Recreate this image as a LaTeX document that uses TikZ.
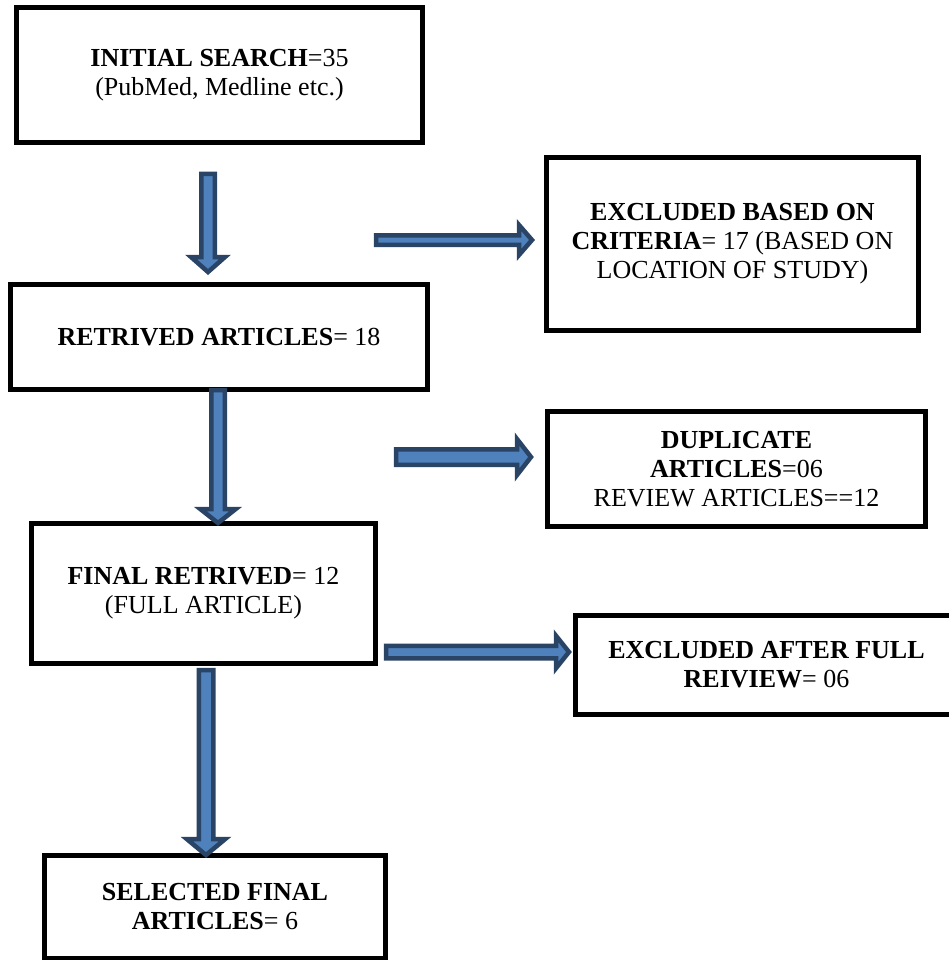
\documentclass[tikz,border=0pt]{standalone}
\usepackage{fontspec}
\setmainfont{Liberation Serif}
\usetikzlibrary{calc}
\definecolor{arrowfill}{HTML}{4F81BD}
\definecolor{arrowline}{HTML}{2A4466}
\tikzset{
  box/.style={draw=black, line width=5pt, rectangle, inner sep=0pt, align=center,
    font=\fontsize{26}{29}\selectfont},
  barrow/.style={fill=arrowfill, draw=arrowline, line width=4.5pt, line join=miter},
}
% vertical block arrow: from, to, shaft half width, head half width, head length
\newcommand\blockdown[5]{%
  \draw[barrow] let \p1=(#1), \p2=(#2) in
    (\x1-#3pt,\y1) -- (\x1+#3pt,\y1) -- (\x1+#3pt,\y2+#5pt) -- (\x1+#4pt,\y2+#5pt)
    -- (\x1,\y2) -- (\x1-#4pt,\y2+#5pt) -- (\x1-#3pt,\y2+#5pt) -- cycle;}
% horizontal block arrow
\newcommand\blockright[5]{%
  \draw[barrow] let \p1=(#1), \p2=(#2) in
    (\x1,\y1+#3pt) -- (\x2-#5pt,\y1+#3pt) -- (\x2-#5pt,\y1+#4pt) -- (\x2,\y1)
    -- (\x2-#5pt,\y1-#4pt) -- (\x2-#5pt,\y1-#3pt) -- (\x1,\y1-#3pt) -- cycle;}
\begin{document}
\begin{tikzpicture}[x=1pt, y=-1pt]
\useasboundingbox (0,0) rectangle (949,960);
\fill[white] (0,0) rectangle (949,960);

\node[box, minimum width=406pt, minimum height=135pt] (search) at (219.5,75)
  {\textbf{INITIAL SEARCH}=35\\(PubMed, Medline etc.)};
\node[box, minimum width=417pt, minimum height=105pt] (retrieved) at (219,337)
  {\textbf{RETRIVED ARTICLES}= 18};
\node[box, minimum width=372pt, minimum height=173pt] (excl) at (732.5,244)
  {\textbf{EXCLUDED BASED ON}\\\textbf{CRITERIA}= 17 (BASED ON\\LOCATION OF STUDY)};
\node[box, minimum width=378pt, minimum height=115pt] (dup) at (736.5,469)
  {\textbf{DUPLICATE}\\\textbf{ARTICLES}=06\\REVIEW ARTICLES==12};
\node[box, minimum width=382pt, minimum height=99pt] (exclfull) at (766.5,665)
  {\textbf{EXCLUDED AFTER FULL}\\\textbf{REIVIEW}= 06};
\node[box, minimum width=344pt, minimum height=140pt] (final) at (203.5,593.5)
  {\textbf{FINAL RETRIVED}= 12\\(FULL ARTICLE)};
\node[box, minimum width=341pt, minimum height=103pt] (selected) at (215,907)
  {\textbf{SELECTED FINAL}\\\textbf{ARTICLES}= 6};

\coordinate (d1s) at (208,174);
\coordinate (d1e) at (208,272);
\coordinate (r1s) at (376,240);
\coordinate (r1e) at (532,240);
\coordinate (d2s) at (218,390);
\coordinate (d2e) at (218,523);
\coordinate (r2s) at (396,457);
\coordinate (r2e) at (531,457);
\coordinate (r3s) at (386,652);
\coordinate (r3e) at (569,652);
\coordinate (d3s) at (206,670);
\coordinate (d3e) at (206,855);

\blockdown{d1s}{d1e}{6.75}{17}{15}
\blockright{r1s}{r1e}{4.75}{15}{13}
\blockdown{d2s}{d2e}{6.75}{17.75}{14}
\blockright{r2s}{r2e}{7.75}{18}{14}
\blockright{r3s}{r3e}{6.25}{16.25}{13}
\blockdown{d3s}{d3e}{7.25}{19.25}{16}
\end{tikzpicture}
\end{document}
